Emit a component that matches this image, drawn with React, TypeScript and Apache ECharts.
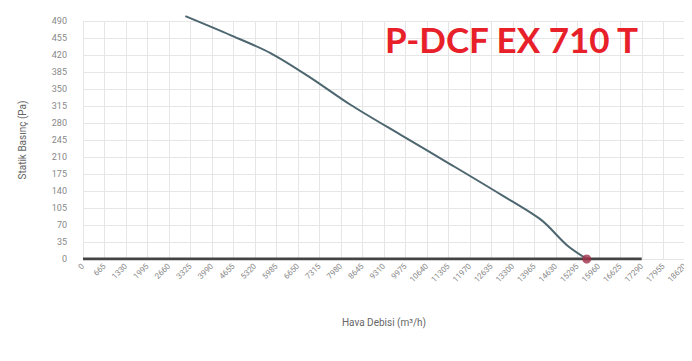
import React, { useEffect, useRef } from "react";
import * as echarts from "echarts";

const flow = [3165, 4560, 5800, 7045, 8285, 9840, 11390, 12940, 14180, 14960, 15580];
const pressure = [500, 461, 424, 373, 317, 255, 194, 132, 80, 29, 0];
const baseFlow = [0, 17280];
const basePressure = [0, 0];
const title = "P-DCF EX 710 T";
const xName = "Hava Debisi (m³/h)";
const yName = "Statik Basınç (Pa)";

export default function App() {
  const ref = useRef<HTMLDivElement>(null);
  useEffect(() => {
    const chart = echarts.init(ref.current!, null, { renderer: "svg" });
    chart.setOption({
      animation: false,
      backgroundColor: "#ffffff",
      title: {
        text: title,
        left: 380,
        top: 16,
        textStyle: { color: "#e8202a", fontFamily: "Lato", fontWeight: "bold", fontSize: 35 },
      },
      grid: { left: 83, right: 7, top: 21, bottom: 102 },
      xAxis: {
        type: "value",
        min: 0,
        max: 18620,
        interval: 665,
        name: xName,
        nameLocation: "middle",
        nameGap: 58,
        nameTextStyle: { color: "#666", fontSize: 10, fontFamily: "Roboto" },
        axisLine: { show: false },
        axisTick: { show: false },
        axisLabel: {
          rotate: 45,
          color: "#888",
          fontSize: 8,
          fontFamily: "Roboto",
          formatter: (v: number) => String(v),
          margin: 6,
        },
        splitLine: { show: true, lineStyle: { color: "#e6e6e6", width: 1 } },
      },
      yAxis: {
        type: "value",
        min: 0,
        max: 490,
        interval: 35,
        name: yName,
        nameLocation: "middle",
        nameGap: 56,
        nameTextStyle: { color: "#666", fontSize: 10, fontFamily: "Roboto" },
        axisLine: { show: false },
        axisTick: { show: false },
        axisLabel: { color: "#888", fontSize: 9, fontFamily: "Roboto", margin: 16 },
        splitLine: { show: true, lineStyle: { color: "#e6e6e6", width: 1 } },
      },
      series: [
        {
          type: "line",
          data: baseFlow.map((f, i) => [f, basePressure[i]]),
          symbol: "none",
          lineStyle: { color: "#444", width: 3 },
          z: 2,
        },
        {
          type: "line",
          data: flow.map((f, i) => [f, pressure[i]]),
          smooth: 0.3,
          clip: false,
          symbol: "none",
          lineStyle: { color: "#4d6670", width: 2 },
          z: 3,
          markPoint: {
            symbol: "circle",
            symbolSize: 9,
            label: { show: false },
            itemStyle: { color: "#a0304a", opacity: 0.8 },
            data: [{ coord: [flow[flow.length - 1], pressure[pressure.length - 1]] }],
          },
        },
      ],
    });
    return () => chart.dispose();
  }, []);
  return <div ref={ref} style={{ width: 692, height: 361, margin: -8 }} />;
}
